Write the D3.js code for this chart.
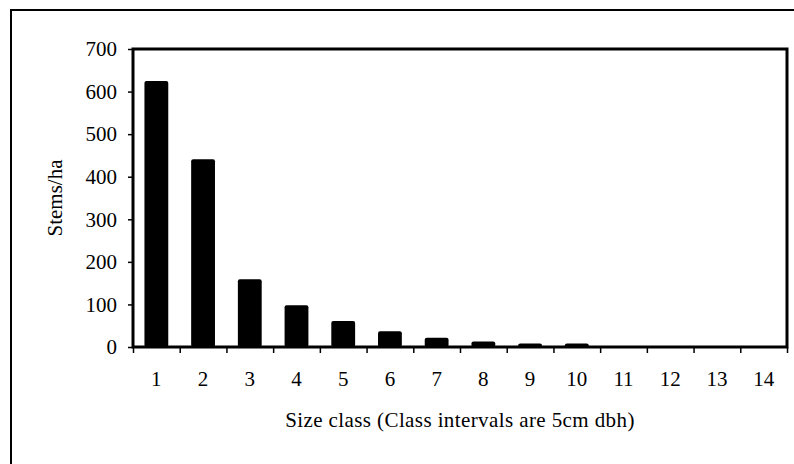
<!DOCTYPE html>
<html>
<head>
<meta charset="utf-8">
<script src="https://cdn.jsdelivr.net/npm/d3@7/dist/d3.min.js"></script>
<style>
  html, body { margin: 0; padding: 0; background: #fff; }
  svg text { font-family: "Liberation Serif", "Times New Roman", serif; fill: #000; }
</style>
</head>
<body>
<svg id="chart" width="794" height="464"></svg>
<script>
const categories = ["1","2","3","4","5","6","7","8","9","10","11","12","13","14"];
const stemsPerHa = [625, 441, 159, 98, 61, 37, 22, 13, 8, 8, 2, 1, 1, 1];
const yTicks = [0, 100, 200, 300, 400, 500, 600, 700];
const xTitle = "Size class (Class intervals are 5cm dbh)";
const yTitle = "Stems/ha";

const svg = d3.select("#chart");
const plotLeft = 133, plotRight = 787, plotTop = 49, plotBottom = 347;

// outer border
svg.append("rect")
  .attr("x", 11).attr("y", 10).attr("width", 800).attr("height", 470)
  .attr("fill", "none").attr("stroke", "#000").attr("stroke-width", 2);

const x = d3.scaleBand().domain(categories).range([plotLeft, plotRight])
  .paddingInner(0.49).paddingOuter(0.245);
const xEdge = d3.scaleLinear().domain([0, categories.length]).range([plotLeft, plotRight]);
const y = d3.scaleLinear().domain([0, 700]).range([plotBottom, plotTop]);

// bars
svg.append("g").selectAll("rect").data(stemsPerHa).join("rect")
  .attr("x", (d, i) => x(categories[i]))
  .attr("width", x.bandwidth())
  .attr("y", d => y(d))
  .attr("height", d => plotBottom - y(d))
  .attr("rx", 2)
  .attr("fill", "#000");

// y axis
const yAxis = svg.append("g").attr("transform", `translate(${plotLeft},0)`)
  .call(d3.axisLeft(y).tickValues(yTicks).tickSize(5).tickPadding(11).tickSizeOuter(0));
yAxis.select(".domain").remove();
yAxis.selectAll("line").attr("stroke-width", 1.5);
yAxis.selectAll("text").style("font-size", "21px");

// x ticks at band edges
const xTickAxis = svg.append("g").attr("transform", `translate(0,${plotBottom})`)
  .call(d3.axisBottom(xEdge).tickValues(d3.range(0, categories.length + 1)).tickSize(6).tickFormat(""));
xTickAxis.select(".domain").remove();
xTickAxis.selectAll("line").attr("stroke-width", 1.5);

// x labels at band centers
const xAxis = svg.append("g").attr("transform", `translate(0,${plotBottom})`)
  .call(d3.axisBottom(x).tickSize(0).tickPadding(24));
xAxis.select(".domain").remove();
xAxis.selectAll("text").style("font-size", "21px");

// plot frame
svg.append("rect")
  .attr("x", plotLeft).attr("y", plotTop).attr("width", plotRight - plotLeft).attr("height", plotBottom - plotTop)
  .attr("fill", "none").attr("stroke", "#000").attr("stroke-width", 3);

// titles
svg.append("text")
  .attr("x", (plotLeft + plotRight) / 2).attr("y", 427)
  .attr("text-anchor", "middle").style("font-size", "21px")
  .style("letter-spacing", "0.4px")
  .text(xTitle);

svg.append("text")
  .attr("transform", `translate(62,${(plotTop + plotBottom) / 2}) rotate(-90)`)
  .attr("text-anchor", "middle").style("font-size", "21px")
  .text(yTitle);
</script>
</body>
</html>
